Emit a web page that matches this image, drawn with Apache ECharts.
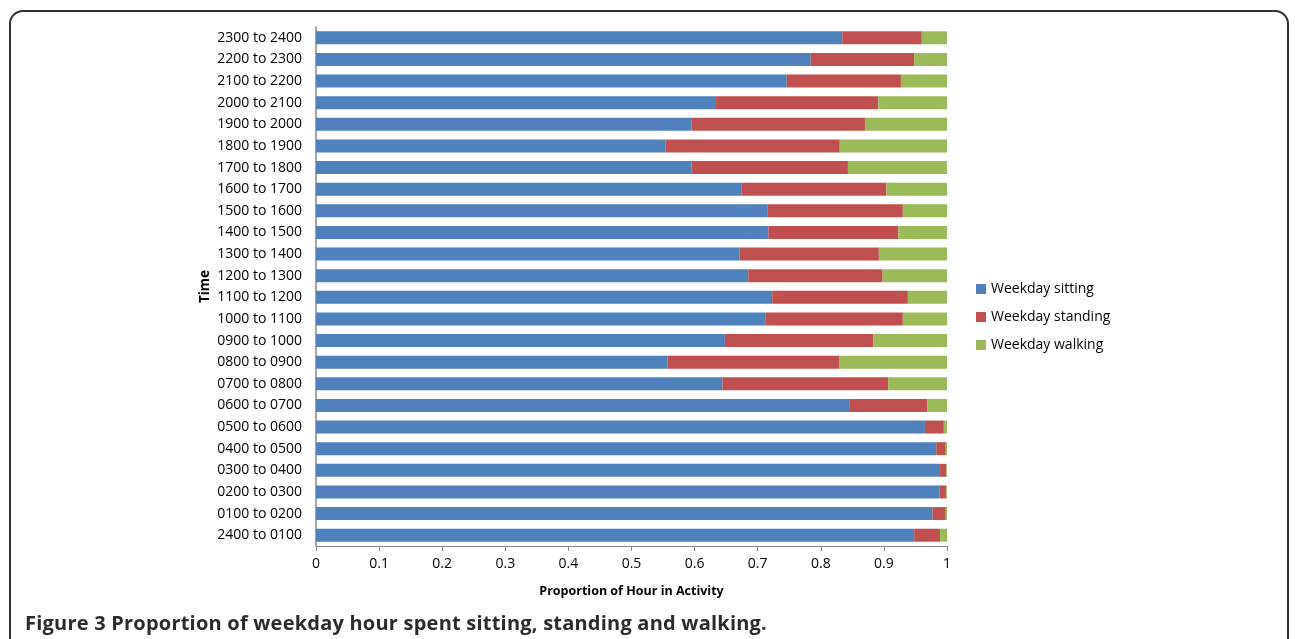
<!DOCTYPE html>
<html>
<head>
<meta charset="utf-8">
<script src="https://cdn.jsdelivr.net/npm/echarts@6/dist/echarts.min.js"></script>
<style>
  html, body { margin: 0; padding: 0; background: #fff; }
  #frame { position: absolute; left: 9px; top: 10px; width: 1280px; height: 700px;
           border: 2px solid #333; border-radius: 14px; box-sizing: border-box; }
  #chart { position: absolute; left: 0; top: 0; width: 1295px; height: 639px; }
  #caption { position: absolute; left: 25px; top: 609px; font-family: "Open Sans", Lato, sans-serif;
             font-weight: bold; font-size: 20px; letter-spacing: 0.22px; color: #2b2b2b; white-space: nowrap; }
</style>
</head>
<body>
<div id="frame"></div>
<div id="chart"></div>
<div id="caption">Figure 3 Proportion of weekday hour spent sitting, standing and walking.</div>
<script>
const categories = ["2400 to 0100","0100 to 0200","0200 to 0300","0300 to 0400","0400 to 0500","0500 to 0600",
  "0600 to 0700","0700 to 0800","0800 to 0900","0900 to 1000","1000 to 1100","1100 to 1200",
  "1200 to 1300","1300 to 1400","1400 to 1500","1500 to 1600","1600 to 1700","1700 to 1800",
  "1800 to 1900","1900 to 2000","2000 to 2100","2100 to 2200","2200 to 2300","2300 to 2400"];
const sitting  = [0.948,0.977,0.988,0.989,0.983,0.965,0.845,0.644,0.557,0.648,0.712,0.723,
                  0.685,0.671,0.717,0.716,0.674,0.595,0.554,0.595,0.634,0.746,0.784,0.834];
const standing = [0.041,0.021,0.011,0.010,0.015,0.030,0.124,0.263,0.272,0.235,0.218,0.215,
                  0.213,0.221,0.206,0.214,0.230,0.248,0.276,0.275,0.257,0.181,0.164,0.126];
const walking  = [0.011,0.002,0.001,0.001,0.002,0.005,0.031,0.093,0.171,0.117,0.070,0.062,
                  0.102,0.108,0.077,0.070,0.096,0.157,0.170,0.130,0.109,0.073,0.052,0.040];
const xTicks = [0,0.1,0.2,0.3,0.4,0.5,0.6,0.7,0.8,0.9,1];

const font = '"Open Sans", Lato, sans-serif';
const chart = echarts.init(document.getElementById('chart'));
chart.setOption({
  animation: false,
  textStyle: { fontFamily: font },
  grid: { left: 316, right: 348, top: 27, bottom: 93, containLabel: false },
  legend: {
    orient: 'vertical', left: 971, top: 277, itemGap: 14, itemWidth: 10, itemHeight: 10,
    icon: 'rect', textStyle: { fontSize: 14, color: '#000', fontFamily: font },
    data: ['Weekday sitting','Weekday standing','Weekday walking']
  },
  xAxis: {
    type: 'value', min: 0, max: 1, interval: 0.1,
    name: 'Proportion of Hour in Activity', nameLocation: 'middle', nameGap: 39,
    nameTextStyle: { fontWeight: 'bold', fontSize: 12.5, color: '#000', fontFamily: font },
    axisLine: { show: true, lineStyle: { color: '#868686' } },
    axisTick: { show: true, length: 5, lineStyle: { color: '#868686' } },
    axisLabel: { fontSize: 14, color: '#000', margin: 11, formatter: v => xTicks.includes(Math.round(v*10)/10) ? String(Math.round(v*10)/10) : '' },
    splitLine: { show: false }
  },
  yAxis: {
    type: 'category', data: categories,
    name: 'Time', nameLocation: 'middle', nameGap: 104, nameRotate: 90,
    nameTextStyle: { fontWeight: 'bold', fontSize: 13.5, color: '#000', fontFamily: font },
    axisLine: { show: true, lineStyle: { color: '#868686', width: 1.5 } },
    axisTick: { show: false },
    axisLabel: { fontSize: 14, color: '#000', margin: 14 }
  },
  series: [
    { name: 'Weekday sitting', type: 'bar', stack: 'a', data: sitting, barWidth: '60%',
      itemStyle: { color: '#4F81BD' } },
    { name: 'Weekday standing', type: 'bar', stack: 'a', data: standing, barWidth: '60%',
      itemStyle: { color: '#C0504D' } },
    { name: 'Weekday walking', type: 'bar', stack: 'a', data: walking, barWidth: '60%',
      itemStyle: { color: '#9BBB59' } }
  ]
});
</script>
</body>
</html>
